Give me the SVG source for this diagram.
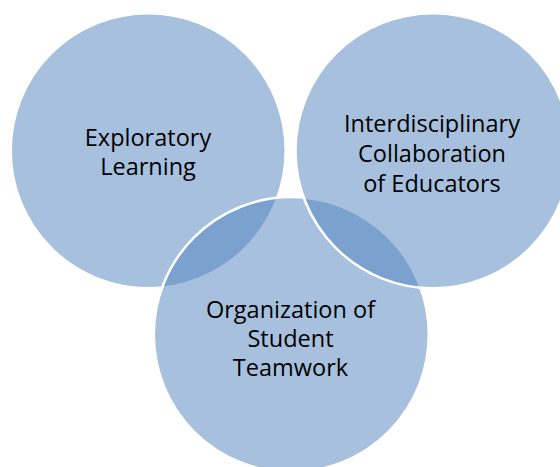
<svg xmlns="http://www.w3.org/2000/svg" width="560" height="467" viewBox="0 0 560 467">
<style>
.c{fill:#4F81BD;fill-opacity:0.5;stroke:#FFFFFF;stroke-width:2.5}
.t{font-family:"Open Sans","DejaVu Sans",sans-serif;font-size:23.5px;fill:#000000;text-anchor:middle}
</style>
<rect width="560" height="467" fill="#FFFFFF"/>
<g id="node-exploratory">
<circle class="c" cx="148.2" cy="150.7" r="137.5"/>
<text class="t" x="148" y="145.5">Exploratory</text>
<text class="t" x="148" y="174.5">Learning</text>
</g>
<g id="node-organization">
<circle class="c" cx="291.3" cy="334.6" r="137.5"/>
<text class="t" x="290.5" y="318">Organization of</text>
<text class="t" x="290.5" y="347">Student</text>
<text class="t" x="290.5" y="376">Teamwork</text>
</g>
<g id="node-interdisciplinary">
<circle class="c" cx="433" cy="150.7" r="137.5"/>
<text class="t" x="432" y="131.7">Interdisciplinary</text>
<text class="t" x="432" y="161.7">Collaboration</text>
<text class="t" x="432" y="191.7">of Educators</text>
</g>
<g id="connectors"/>
</svg>
